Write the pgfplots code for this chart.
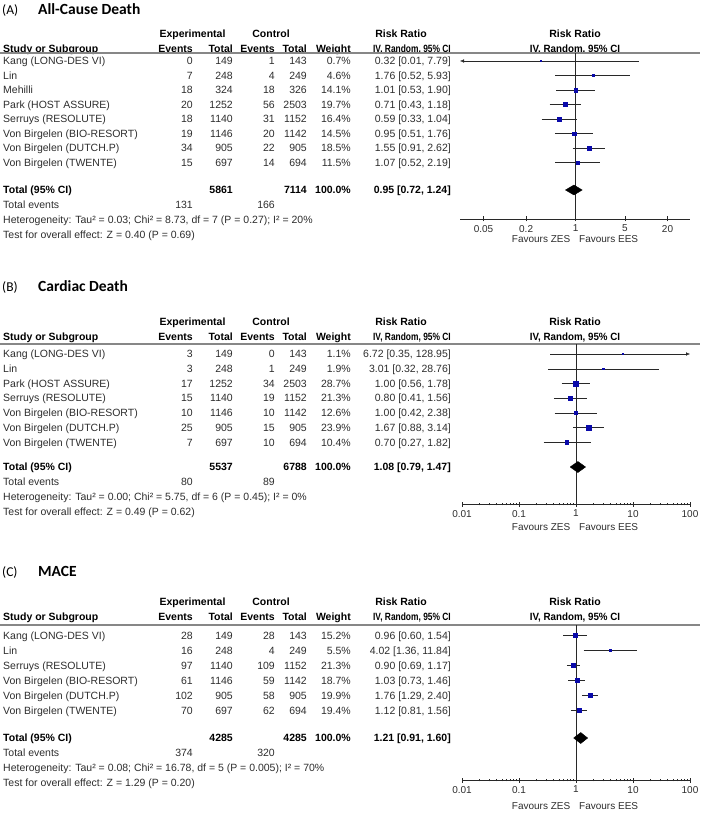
\documentclass[border=0pt]{standalone}
\usepackage{fontspec}
\setmainfont{Liberation Sans}
\newfontfamily\titlefont{Carlito}
\usepackage{graphicx}
\usepackage{pgfplots}
\pgfplotsset{compat=1.18}
\usetikzlibrary{arrows.meta}
\definecolor{markblue}{RGB}{10,10,170}
\definecolor{txtcol}{RGB}{45,45,45}
\definecolor{linecol}{RGB}{40,40,40}
\definecolor{rulecol}{RGB}{135,135,135}

\pgfplotsset{every axis/.append style={scale only axis, xmode=log, axis x line=bottom, axis y line=none,
  x axis line style={-, draw=linecol}, tick align=center, major tick length=5pt,
  tick style={linecol, thin}, minor x tick num=0,
  xticklabel style={font=\fontsize{10}{12}\selectfont, text=txtcol},
  clip=false, anchor=south west}}

\newcommand\headers[3]{%
 \node[B,anchor=base] at (192.5,{#1+3.8}) {Experimental};
 \node[B,anchor=base] at (271,{#1+3.8}) {Control};
 \node[B,anchor=base] at (401,{#1+3.8}) {Risk Ratio};
 \node[B,anchor=base] at (575,{#1+3.8}) {Risk Ratio};
 \node[B,anchor=base west] at (3,{#2+3.8}) {Study or Subgroup};
 \node[B,anchor=base east] at (193,{#2+3.8}) {Events};
 \node[B,anchor=base east] at (233,{#2+3.8}) {Total};
 \node[B,anchor=base east] at (275,{#2+3.8}) {Events};
 \node[B,anchor=base east] at (307,{#2+3.8}) {Total};
 \node[B,anchor=base east] at (351,{#2+3.8}) {Weight};
 \node[B,anchor=base east] at (451,{#2+3.8}) {\scalebox{0.8}[1]{IV, Random, 95\% CI}};
 \node[B,anchor=base] at (575,{#2+3.8}) {\scalebox{0.93}[1]{IV, Random, 95\% CI}};
 \draw[rulecol, line width=1.6pt] (0,#3) -- (700,#3);}
\newcommand\srow[8]{%
 \node[T,anchor=base west] at (3,{#1+3.8}) {#2};
 \node[T,anchor=base east] at (193,{#1+3.8}) {#3};
 \node[T,anchor=base east] at (233,{#1+3.8}) {#4};
 \node[T,anchor=base east] at (275,{#1+3.8}) {#5};
 \node[T,anchor=base east] at (307,{#1+3.8}) {#6};
 \node[T,anchor=base east] at (351,{#1+3.8}) {#7};
 \node[T,anchor=base east] at (451,{#1+3.8}) {#8};}
\newcommand\totrow[4]{%
 \node[B,anchor=base west] at (3,{#1+3.8}) {Total (95\% CI)};
 \node[B,anchor=base east] at (233,{#1+3.8}) {#2};
 \node[B,anchor=base east] at (307,{#1+3.8}) {#3};
 \node[B,anchor=base east] at (351,{#1+3.8}) {100.0\%};
 \node[B,anchor=base east] at (451,{#1+3.8}) {#4};}
\newcommand\evrow[3]{%
 \node[T,anchor=base west] at (3,{#1+3.8}) {Total events};
 \node[T,anchor=base east] at (193,{#1+3.8}) {#2};
 \node[T,anchor=base east] at (275,{#1+3.8}) {#3};}
\newcommand\hetrow[3]{%
 \node[T,anchor=base west] at (3,{#1+3.8}) {Heterogeneity: #2};
 \node[T,anchor=base west] at (3,{#1+18.8}) {Test for overall effect: #3};}
\newcommand\favours[1]{%
 \node[T,anchor=base east,font=\fontsize{10}{12}\selectfont] at (570.5,{#1+3.6}) {Favours ZES};
 \node[T,anchor=base west,font=\fontsize{10}{12}\selectfont] at (579,{#1+3.6}) {Favours EES};}
\newcommand\ptitle[3]{%
 \node[anchor=base west, inner sep=0pt, text=black, font=\titlefont\fontsize{13.5}{15}\selectfont] at (2,{#1+4.6}) {(#2)};
 \node[anchor=base west, inner sep=0pt, text=black, font=\titlefont\bfseries\fontsize{15.5}{18}\selectfont] at (38,{#1+5}) {#3};}

\pgfplotsset{sqmarks/.style={scatter, only marks, mark=square*, point meta=explicit,
  scatter/use mapped color={draw=markblue, fill=markblue},
  visualization depends on={\thisrow{s}\as\msz},
  scatter/@pre marker code/.append style={/tikz/mark size=\msz}}}

\begin{document}
\begin{tikzpicture}[x=1pt,y=-1pt,
  T/.style={inner sep=0pt, font=\fontsize{10.5}{12}\selectfont, text=txtcol},
  B/.style={inner sep=0pt, font=\fontsize{10.5}{12}\selectfont\bfseries, text=black}]
\path[use as bounding box] (0,0) rectangle (702,813);

% ---------------- Panel A ----------------
\ptitle{10}{A}{All-Cause Death}
\headers{33.3}{48.3}{53.3}
\srow{61}{Kang (LONG-DES VI)}{0}{149}{1}{143}{0.7\%}{0.32 [0.01, 7.79]}
\srow{75.5}{Lin}{7}{248}{4}{249}{4.6\%}{1.76 [0.52, 5.93]}
\srow{90}{Mehilli}{18}{324}{18}{326}{14.1\%}{1.01 [0.53, 1.90]}
\srow{104.5}{Park (HOST ASSURE)}{20}{1252}{56}{2503}{19.7\%}{0.71 [0.43, 1.18]}
\srow{119}{Serruys (RESOLUTE)}{18}{1140}{31}{1152}{16.4\%}{0.59 [0.33, 1.04]}
\srow{133.5}{Von Birgelen (BIO-RESORT)}{19}{1146}{20}{1142}{14.5\%}{0.95 [0.51, 1.76]}
\srow{148}{Von Birgelen (DUTCH.P)}{34}{905}{22}{905}{18.5\%}{1.55 [0.91, 2.62]}
\srow{162.5}{Von Birgelen (TWENTE)}{15}{697}{14}{694}{11.5\%}{1.07 [0.52, 2.19]}
\totrow{190}{5861}{7114}{0.95 [0.72, 1.24]}
\evrow{205}{131}{166}
\hetrow{220}{Tau² = 0.03; Chi² = 8.73, df = 7 (P = 0.27); I² = 20\%}{Z = 0.40 (P = 0.69)}
\favours{239}

\begin{axis}[at={(460pt,-219pt)}, width=230pt, height=165.7pt,
  xmin=0.0232, xmax=41.6, ymin=-219, ymax=-53.3,
  xtick={0.05,0.2,1,5,20}, xticklabels={0.05,0.2,1,5,20}]
 \addplot[linecol, thin] coordinates {(1,-53.3) (1,-219)};
 \addplot[linecol, {Latex[length=4pt,width=3.5pt]}-] coordinates {(0.0232,-61) (7.79,-61)};
 \addplot[linecol, unbounded coords=jump] table {
 x y
 0.52 -75.5
 5.93 -75.5
 nan nan
 0.53 -90
 1.90 -90
 nan nan
 0.43 -104.5
 1.18 -104.5
 nan nan
 0.33 -119
 1.04 -119
 nan nan
 0.51 -133.5
 1.76 -133.5
 nan nan
 0.91 -148
 2.62 -148
 nan nan
 0.52 -162.5
 2.19 -162.5
 };
 \addplot[sqmarks] table[x=r, y=y, meta=s] {
 r y s
 0.32 -61 0.45
 1.76 -75.5 1.01
 1.01 -90 1.76
 0.71 -104.5 2.09
 0.59 -119 1.90
 0.95 -133.5 1.79
 1.55 -148 2.02
 1.07 -162.5 1.59
 };
 \addplot[fill=black, draw=black] coordinates {(0.72,-190) (0.95,-185) (1.24,-190) (0.95,-195) (0.72,-190)};
\end{axis}

% ---------------- Panel B ----------------
\ptitle{286.7}{B}{Cardiac Death}
\headers{321.7}{336.7}{344}
\srow{354}{Kang (LONG-DES VI)}{3}{149}{0}{143}{1.1\%}{6.72 [0.35, 128.95]}
\srow{368.7}{Lin}{3}{248}{1}{249}{1.9\%}{3.01 [0.32, 28.76]}
\srow{383.4}{Park (HOST ASSURE)}{17}{1252}{34}{2503}{28.7\%}{1.00 [0.56, 1.78]}
\srow{398.1}{Serruys (RESOLUTE)}{15}{1140}{19}{1152}{21.3\%}{0.80 [0.41, 1.56]}
\srow{412.8}{Von Birgelen (BIO-RESORT)}{10}{1146}{10}{1142}{12.6\%}{1.00 [0.42, 2.38]}
\srow{427.5}{Von Birgelen (DUTCH.P)}{25}{905}{15}{905}{23.9\%}{1.67 [0.88, 3.14]}
\srow{442.2}{Von Birgelen (TWENTE)}{7}{697}{10}{694}{10.4\%}{0.70 [0.27, 1.82]}
\totrow{467}{5537}{6788}{1.08 [0.79, 1.47]}
\evrow{482}{80}{89}
\hetrow{497}{Tau² = 0.00; Chi² = 5.75, df = 6 (P = 0.45); I² = 0\%}{Z = 0.49 (P = 0.62)}
\favours{527}

\begin{axis}[at={(462pt,-504pt)}, width=228pt, height=160pt,
  xmin=0.01, xmax=100, ymin=-504, ymax=-344,
  xtick={0.01,0.1,1,10,100}, xticklabels={0.01,0.1,1,10,100}]
 \addplot[linecol, thin] coordinates {(1,-344) (1,-504)};
 \addplot[linecol, -{Latex[length=4pt,width=3.5pt]}] coordinates {(0.35,-354) (100,-354)};
 \addplot[linecol, unbounded coords=jump] table {
 x y
 0.32 -368.7
 28.76 -368.7
 nan nan
 0.56 -383.4
 1.78 -383.4
 nan nan
 0.41 -398.1
 1.56 -398.1
 nan nan
 0.42 -412.8
 2.38 -412.8
 nan nan
 0.88 -427.5
 3.14 -427.5
 nan nan
 0.27 -442.2
 1.82 -442.2
 };
 \addplot[sqmarks] table[x=r, y=y, meta=s] {
 r y s
 6.72 -354 0.5
 3.01 -368.7 0.65
 1.00 -383.4 2.52
 0.80 -398.1 2.17
 1.00 -412.8 1.67
 1.67 -427.5 2.30
 0.70 -442.2 1.52
 };
 \addplot[fill=black, draw=black] coordinates {(0.79,-467) (1.08,-461.5) (1.47,-467) (1.08,-472.5) (0.79,-467)};
\end{axis}

% ---------------- Panel C ----------------
\ptitle{571.7}{C}{MACE}
\headers{601.7}{616.7}{625}
\srow{635.5}{Kang (LONG-DES VI)}{28}{149}{28}{143}{15.2\%}{0.96 [0.60, 1.54]}
\srow{650.5}{Lin}{16}{248}{4}{249}{5.5\%}{4.02 [1.36, 11.84]}
\srow{665.5}{Serruys (RESOLUTE)}{97}{1140}{109}{1152}{21.3\%}{0.90 [0.69, 1.17]}
\srow{680.5}{Von Birgelen (BIO-RESORT)}{61}{1146}{59}{1142}{18.7\%}{1.03 [0.73, 1.46]}
\srow{695.5}{Von Birgelen (DUTCH.P)}{102}{905}{58}{905}{19.9\%}{1.76 [1.29, 2.40]}
\srow{710.5}{Von Birgelen (TWENTE)}{70}{697}{62}{694}{19.4\%}{1.12 [0.81, 1.56]}
\totrow{738}{4285}{4285}{1.21 [0.91, 1.60]}
\evrow{753}{374}{320}
\hetrow{768}{Tau² = 0.08; Chi² = 16.78, df = 5 (P = 0.005); I² = 70\%}{Z = 1.29 (P = 0.20)}
\favours{805.5}

\begin{axis}[at={(462pt,-780pt)}, width=228pt, height=155pt,
  xmin=0.01, xmax=100, ymin=-780, ymax=-625,
  xtick={0.01,0.1,1,10,100}, xticklabels={0.01,0.1,1,10,100}]
 \addplot[linecol, thin] coordinates {(1,-625) (1,-780)};
 \addplot[linecol, unbounded coords=jump] table {
 x y
 0.60 -635.5
 1.54 -635.5
 nan nan
 1.36 -650.5
 11.84 -650.5
 nan nan
 0.69 -665.5
 1.17 -665.5
 nan nan
 0.73 -680.5
 1.46 -680.5
 nan nan
 1.29 -695.5
 2.40 -695.5
 nan nan
 0.81 -710.5
 1.56 -710.5
 };
 \addplot[sqmarks] table[x=r, y=y, meta=s] {
 r y s
 0.96 -635.5 1.83
 4.02 -650.5 1.10
 0.90 -665.5 2.17
 1.03 -680.5 2.03
 1.76 -695.5 2.10
 1.12 -710.5 2.07
 };
 \addplot[fill=black, draw=black] coordinates {(0.91,-738) (1.21,-732.5) (1.60,-738) (1.21,-743.5) (0.91,-738)};
\end{axis}
\end{tikzpicture}
\end{document}
